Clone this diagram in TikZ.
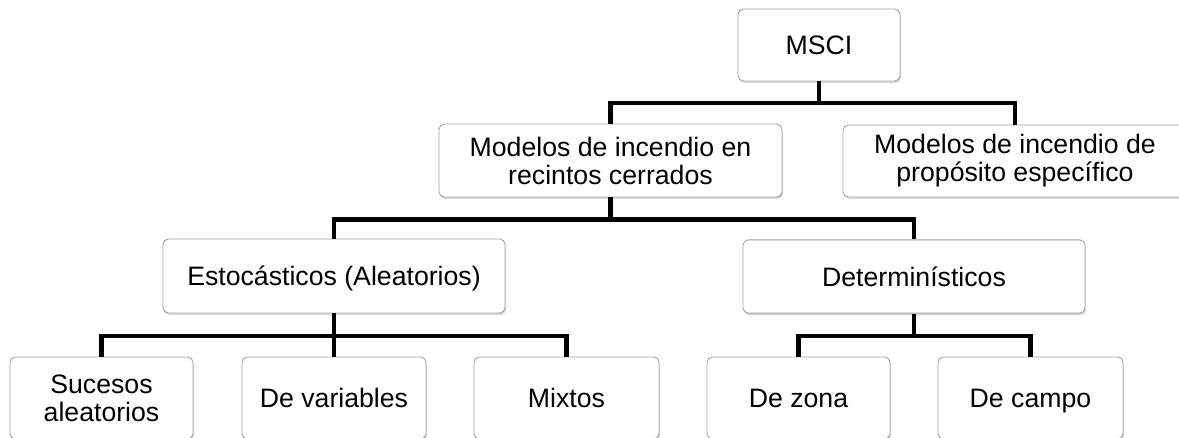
\documentclass[tikz,border=0pt]{standalone}
\usepackage{fontspec}
\setmainfont{Liberation Sans}
\usetikzlibrary{shadows}
\definecolor{boxborder}{RGB}{165,165,165}
\begin{document}
\begin{tikzpicture}[x=0.75pt,y=-0.75pt,
  box/.style={draw=boxborder, line width=0.7pt, rounded corners=4pt, fill=white,
    align=center, inner sep=0pt, font=\fontsize{20}{21}\selectfont,
    drop shadow={shadow xshift=0.8pt, shadow yshift=-1.6pt, opacity=0.3, fill=gray}},
  onebox/.style={box, text height=14.3pt, text depth=0pt},
  conn/.style={line width=3.6pt, draw=black}]
\useasboundingbox (0,0) rectangle (1179,437);
\clip (0,0) rectangle (1179,437);

\node[onebox, minimum width=121.5pt, minimum height=54pt] (msci) at (819,45) {MSCI};
\node[box, minimum width=257.25pt, minimum height=54.75pt] (rec) at (610.5,160.5) {Modelos de incendio en\\recintos cerrados};
\node[box, minimum width=258pt, minimum height=54pt] (prop) at (1015,161) {Modelos de incendio de\\propósito específico};
\node[onebox, minimum width=256.5pt, minimum height=55.5pt] (est) at (334,276) {Estocásticos (Aleatorios)};
\node[onebox, minimum width=256.5pt, minimum height=55pt] (det) at (914,276.5) {Determinísticos};
\node[box, minimum width=137.25pt, minimum height=61.5pt] (suc) at (101.5,398) {Sucesos\\aleatorios};
\node[onebox, minimum width=138pt, minimum height=61.5pt] (var) at (334,398) {De variables};
\node[onebox, minimum width=138.75pt, minimum height=61.5pt] (mix) at (566.5,398) {Mixtos};
\node[onebox, minimum width=137.25pt, minimum height=61.5pt] (zona) at (798.5,398) {De zona};
\node[onebox, minimum width=138.75pt, minimum height=61.5pt] (campo) at (1030.5,398) {De campo};

\coordinate (b1) at (0,103);
\coordinate (b2) at (0,219.5);
\coordinate (b3) at (0,336);

\draw[conn] (msci.south) -- (msci.south |- b1) -| (rec.north);
\draw[conn] (msci.south |- b1) -| (prop.north);
\draw[conn] (rec.south) -- (rec.south |- b2) -| (est.north);
\draw[conn] (rec.south |- b2) -| (det.north);
\draw[conn] (est.south) -- (est.south |- b3) -| (suc.north);
\draw[conn] (est.south) -- (var.north);
\draw[conn] (est.south |- b3) -| (mix.north);
\draw[conn] (det.south) -- (det.south |- b3) -| (zona.north);
\draw[conn] (det.south |- b3) -| (campo.north);
\end{tikzpicture}
\end{document}
